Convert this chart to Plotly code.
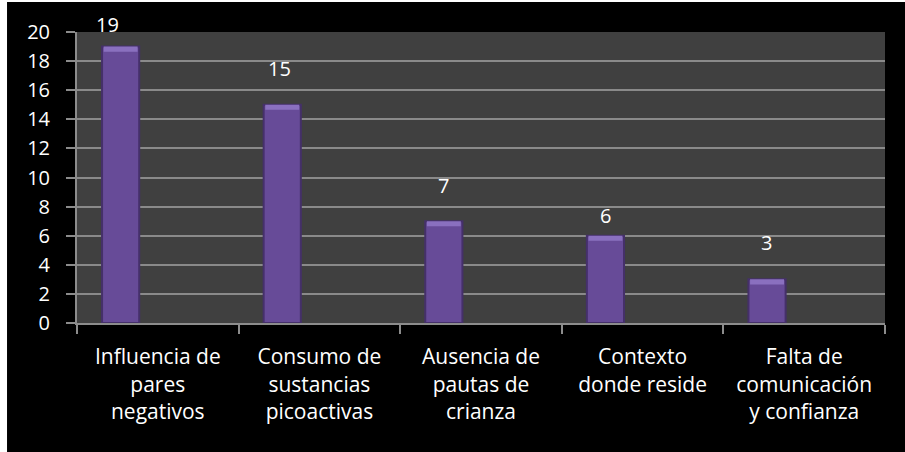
import plotly.graph_objects as go

categories = [
    "Influencia de<br>pares<br>negativos",
    "Consumo de<br>sustancias<br>picoactivas",
    "Ausencia de<br>pautas de<br>crianza",
    "Contexto<br>donde reside",
    "Falta de<br>comunicación<br>y confianza",
]
values = [19, 15, 7, 6, 3]
y_ticks = [0, 2, 4, 6, 8, 10, 12, 14, 16, 18, 20]

# label pixel nudges (style only)
label_dx = [-13, -3, 0, 0, -1]
label_dy = [22, 36, 36, 20, 37]

BAR_W = 0.23
BAR_OFF = -0.345
FONT = "Open Sans"

fig = go.Figure()
fig.add_trace(go.Bar(
    x=categories, y=values,
    width=BAR_W, offset=BAR_OFF,
    marker=dict(color="#674b98", line=dict(color="#45306a", width=2)),
    hoverinfo="skip", showlegend=False,
))
# lighter bevel cap on top of each bar
cap = 0.35
fig.add_trace(go.Bar(
    x=categories, y=[cap] * len(values), base=[v - cap for v in values],
    width=BAR_W - 0.02, offset=BAR_OFF + 0.01,
    marker=dict(color="#8a70bf", line=dict(width=0)),
    hoverinfo="skip", showlegend=False,
))

for i, (c, v) in enumerate(zip(categories, values)):
    fig.add_annotation(
        x=c, y=v, text=str(v), showarrow=False,
        xshift=(BAR_OFF + BAR_W / 2) * 161.6 + label_dx[i], yshift=label_dy[i],
        font=dict(family=FONT, size=20, color="white"),
    )

fig.update_layout(
    width=905, height=452,
    margin=dict(l=77, r=20, t=32, b=129),
    paper_bgcolor="black",
    plot_bgcolor="#404040",
    barmode="overlay",
    font=dict(family=FONT, color="white"),
    shapes=[
        dict(type="rect", xref="paper", yref="paper", x0=-0.1, x1=-0.0866,
             y0=-0.5, y1=1.2, fillcolor="white", line=dict(width=0), layer="below"),
        dict(type="rect", xref="paper", yref="paper", x0=-0.1, x1=1.1,
             y0=1.103, y1=1.2, fillcolor="white", line=dict(width=0), layer="below"),
    ],
)
fig.update_xaxes(
    type="category", tickson="boundaries", ticks="outside", ticklen=9,
    tickcolor="#8c8c8c", tickwidth=2, showline=True, linecolor="#8c8c8c", linewidth=2,
    showgrid=False, tickfont=dict(family=FONT, size=21, color="white"),
    range=[-0.5, 4.5], ticklabelstandoff=14,
)
fig.update_yaxes(
    range=[0, 20], tickvals=y_ticks, ticks="outside", ticklen=9,
    tickcolor="#8c8c8c", tickwidth=2, showline=True, linecolor="#8c8c8c", linewidth=2,
    showgrid=True, gridcolor="#8a8a8a", gridwidth=2, zeroline=False,
    tickfont=dict(family=FONT, size=20, color="white"), ticklabelstandoff=12,
)

fig.write_html("out.html", config={"displayModeBar": False},
               post_script="document.body.style.margin='0';")
